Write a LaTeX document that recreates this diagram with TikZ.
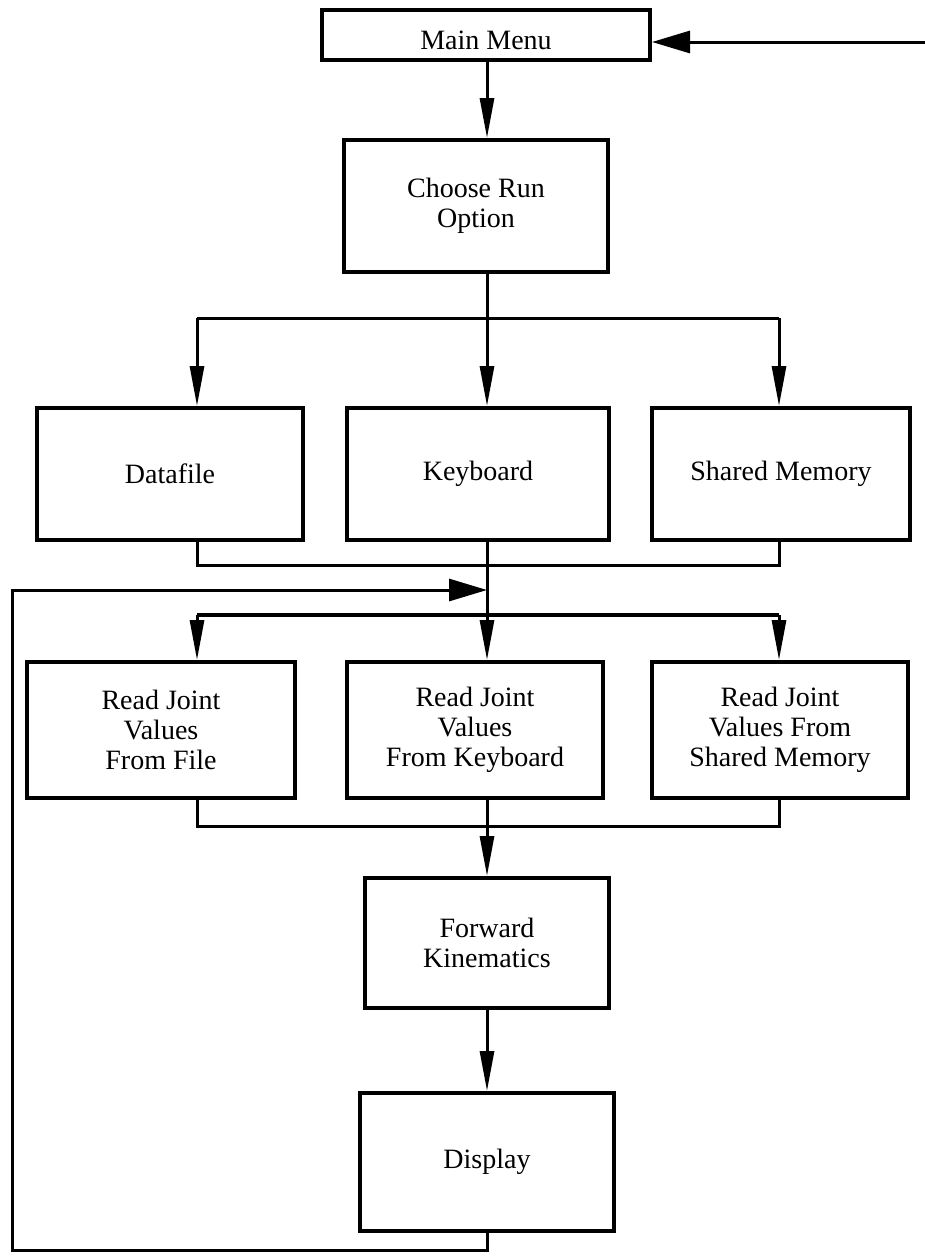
\documentclass[tikz,border=0pt]{standalone}
\usepackage{fontspec}
\setmainfont{Liberation Serif}
\usetikzlibrary{arrows.meta}

\begin{document}
\begin{tikzpicture}[x=0.5pt,y=-0.5pt,
    box/.style={draw,line width=2pt,inner sep=0pt,align=center,
        font=\fontsize{14}{15}\selectfont},
    link/.style={line width=1.5pt},
    down/.style={link,-{Triangle[length=20pt,width=7pt]}},
    side/.style={link,-{Triangle[length=19pt,width=11pt]}}]
    \useasboundingbox (0,0) rectangle (925,1259);

    % boxes
    \node[box,minimum width=164pt,minimum height=25pt,text height=15pt] (menu) at (486,35) {Main Menu};
    \node[box,minimum width=132pt,minimum height=66pt] (choose) at (476,206) {Choose Run\\Option};
    \node[box,minimum width=133pt,minimum height=66pt] (datafile) at (170,474) {Datafile};
    \node[box,minimum width=131pt,minimum height=66pt] (keyboard) at (478,474) {Keyboard};
    \node[box,minimum width=129pt,minimum height=66pt] (shared) at (781,474) {Shared Memory};
    \node[box,minimum width=134pt,minimum height=68pt] (rfile) at (161,730) {Read Joint\\Values\\From File};
    \node[box,minimum width=128pt,minimum height=68pt] (rkey) at (475,730) {Read Joint\\Values\\From Keyboard};
    \node[box,minimum width=128pt,minimum height=68pt] (rshared) at (780,730) {Read Joint\\Values From\\Shared Memory};
    \node[box,minimum width=122pt,minimum height=65pt] (fk) at (487,943) {Forward\\Kinematics};
    \node[box,minimum width=127pt,minimum height=69pt] (disp) at (487,1162) {Display};

    % junctions
    \coordinate (trunk) at (487,0);
    \coordinate (colA) at (197,0);
    \coordinate (colC) at (779,0);
    \coordinate (split1) at (487,318);
    \coordinate (merge1) at (487,565);
    \coordinate (entry) at (487,590);
    \coordinate (split2) at (487,615);
    \coordinate (merge2) at (487,826);
    \coordinate (corner) at (12,1250);
    \coordinate (back) at (925,42);

    % menu to run option
    \draw[side] (back) -- (back -| menu.east);
    \draw[down] (menu.south -| trunk) -- (trunk |- choose.north);

    % run option split
    \draw[link] (trunk |- choose.south) -- (split1);
    \draw[link] (colA |- split1) -- (colC |- split1);
    \draw[down] (colA |- split1) -- (colA |- datafile.north);
    \draw[down] (split1) -- (trunk |- keyboard.north);
    \draw[down] (colC |- split1) -- (colC |- shared.north);

    % merge and loop entry
    \draw[link] (colA |- datafile.south) -- (colA |- merge1) -- (colC |- merge1) -- (colC |- shared.south);
    \draw[link] (trunk |- keyboard.south) -- (split2);
    \draw[side] (disp.south -| trunk) -- (trunk |- corner) -- (corner) |- (entry);

    % read joint values split
    \draw[link,line width=2.2pt] (colA |- split2) -- (colC |- split2);
    \draw[down] (colA |- split2) -- (colA |- rfile.north);
    \draw[down] (split2) -- (trunk |- rkey.north);
    \draw[down] (colC |- split2) -- (colC |- rshared.north);

    % merge to kinematics and display
    \draw[link] (colA |- rfile.south) -- (colA |- merge2) -- (colC |- merge2) -- (colC |- rshared.south);
    \draw[link] (trunk |- rkey.south) -- (merge2);
    \draw[down] (merge2) -- (fk.north);
    \draw[down] (fk.south) -- (disp.north);
\end{tikzpicture}
\end{document}
